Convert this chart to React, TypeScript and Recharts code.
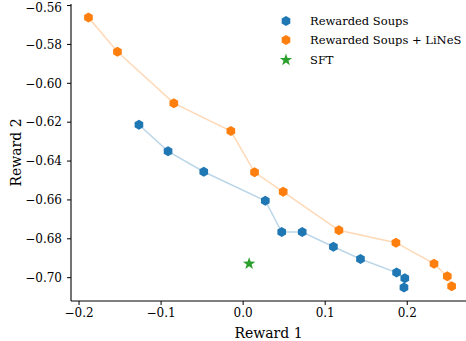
import React from 'react';
import { Scatter, ScatterChart, XAxis, YAxis, Label } from 'recharts';

// Rewarded Soups (blue)
const rsX = [-0.127, -0.0915, -0.048, 0.027, 0.047, 0.072, 0.110, 0.143, 0.187, 0.197, 0.196];
const rsY = [-0.6213, -0.635, -0.6455, -0.6604, -0.6765, -0.6765, -0.6841, -0.6904, -0.6974, -0.7003, -0.7051];

// Rewarded Soups + LiNeS (orange)
const linesX = [-0.1885, -0.1532, -0.0845, -0.015, 0.0139, 0.0488, 0.1167, 0.1862, 0.2326, 0.2488, 0.2541];
const linesY = [-0.5661, -0.5838, -0.6102, -0.6246, -0.6458, -0.6558, -0.6756, -0.682, -0.6928, -0.6993, -0.7044];

// SFT point
const sftX = [0.0073];
const sftY = [-0.6928];

const xTicks = [-0.2, -0.1, 0.0, 0.1, 0.2];
const yTicks = [-0.70, -0.68, -0.66, -0.64, -0.62, -0.60, -0.58, -0.56];

const BLUE = '#1f77b4';
const ORANGE = '#ff7f0e';
const GREEN = '#2ca02c';
const FONT = "'DejaVu Serif', serif";

const toPoints = (xs: number[], ys: number[]) => xs.map((x, i) => ({ x, y: ys[i] }));

const fmt = (digits: number) => (v: number) =>
  (v < 0 ? '\u2212' : '') + Math.abs(v).toFixed(digits);

function hexPoints(cx: number, cy: number, r: number) {
  const pts: string[] = [];
  for (let i = 0; i < 6; i++) {
    const a = ((-90 + 60 * i) * Math.PI) / 180;
    pts.push(`${cx + r * Math.cos(a)},${cy + r * Math.sin(a)}`);
  }
  return pts.join(' ');
}

function starPoints(cx: number, cy: number, ro: number, ri: number) {
  const pts: string[] = [];
  for (let i = 0; i < 10; i++) {
    const r = i % 2 === 0 ? ro : ri;
    const a = ((-90 + 36 * i) * Math.PI) / 180;
    pts.push(`${cx + r * Math.cos(a)},${cy + r * Math.sin(a)}`);
  }
  return pts.join(' ');
}

const Hexagon = (color: string) => (props: any) => {
  const { cx, cy } = props;
  return <polygon points={hexPoints(cx, cy, 5)} fill={color} />;
};

const Star = (props: any) => {
  const { cx, cy } = props;
  return <polygon points={starPoints(cx, cy, 6.5, 2.6)} fill={GREEN} />;
};

function LegendBox() {
  const rows = [
    { label: 'Rewarded Soups', icon: <polygon points={hexPoints(7, 7, 5)} fill={BLUE} /> },
    { label: 'Rewarded Soups + LiNeS', icon: <polygon points={hexPoints(7, 7, 5)} fill={ORANGE} /> },
    { label: 'SFT', icon: <polygon points={starPoints(7, 7, 6.5, 2.6)} fill={GREEN} /> },
  ];
  return (
    <div
      style={{
        position: 'absolute',
        left: 279,
        top: 11,
        fontFamily: FONT,
        fontSize: 11.5,
        color: '#000',
        whiteSpace: 'nowrap',
      }}
    >
      {rows.map((r) => (
        <div key={r.label} style={{ display: 'flex', alignItems: 'center', height: 19.5 }}>
          <svg width={14} height={14} style={{ marginRight: 17, flexShrink: 0 }}>{r.icon}</svg>
          <span>{r.label}</span>
        </div>
      ))}
    </div>
  );
}

export default function App() {
  return (
    <div style={{ position: 'absolute', left: 0, top: 0, width: 466, height: 341, background: '#fff', overflow: 'hidden' }}>
      <ScatterChart width={466} height={341} margin={{ top: 4, right: 0, bottom: 0, left: 0 }}>
        <XAxis
          type="number"
          dataKey="x"
          domain={[-0.2098, 0.2716]}
          ticks={xTicks}
          allowDataOverflow
          tickFormatter={fmt(1)}
          height={40}
          tickSize={4}
          tickMargin={3}
          axisLine={{ stroke: '#000', strokeWidth: 1.1 }}
          tickLine={{ stroke: '#000', strokeWidth: 1 }}
          tick={{ fill: '#000', fontSize: 12, fontFamily: FONT }}
        >
          <Label value="Reward 1" position="insideBottom" offset={3} style={{ fontFamily: FONT, fontSize: 14, fill: '#000' }} />
        </XAxis>
        <YAxis
          type="number"
          dataKey="y"
          domain={[-0.712, -0.5592]}
          ticks={yTicks}
          allowDataOverflow
          tickFormatter={fmt(2)}
          width={71}
          tickSize={4}
          tickMargin={5}
          axisLine={{ stroke: '#000', strokeWidth: 1.1 }}
          tickLine={{ stroke: '#000', strokeWidth: 1 }}
          tick={{ fill: '#000', fontSize: 12, fontFamily: FONT }}
        >
          <Label
            value="Reward 2"
            angle={-90}
            position="insideLeft"
            offset={16}
            style={{ fontFamily: FONT, fontSize: 14, fill: '#000', textAnchor: 'middle' }}
          />
        </YAxis>
        <Scatter
          name="Rewarded Soups"
          data={toPoints(rsX, rsY)}
          line={{ stroke: BLUE, strokeOpacity: 0.3, strokeWidth: 1.5 }}
          shape={Hexagon(BLUE)}
          isAnimationActive={false}
        />
        <Scatter
          name="Rewarded Soups + LiNeS"
          data={toPoints(linesX, linesY)}
          line={{ stroke: ORANGE, strokeOpacity: 0.3, strokeWidth: 1.5 }}
          shape={Hexagon(ORANGE)}
          isAnimationActive={false}
        />
        <Scatter name="SFT" data={toPoints(sftX, sftY)} shape={Star} isAnimationActive={false} />
      </ScatterChart>
      <LegendBox />
    </div>
  );
}
